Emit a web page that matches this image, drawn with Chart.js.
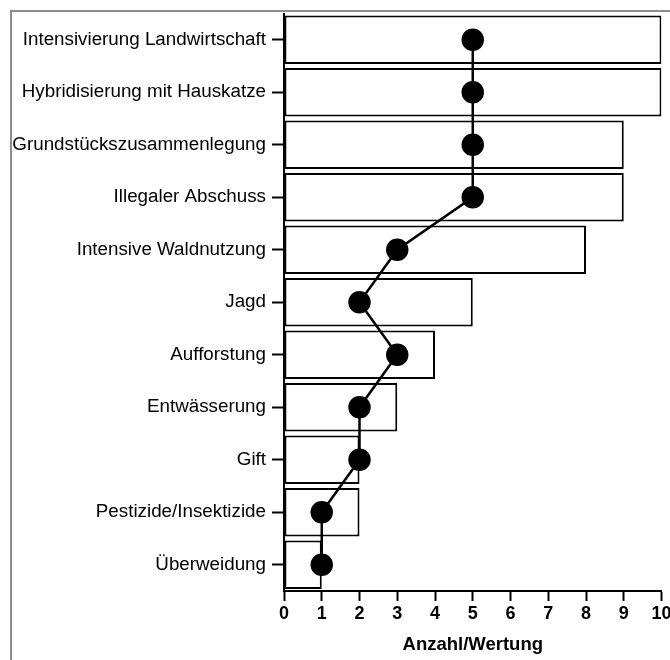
<!DOCTYPE html>
<html lang="de">
<head>
    <meta charset="UTF-8">
    <title>Gefährdungsursachen</title>
    <script src="https://cdn.jsdelivr.net/npm/chart.js"></script>
    <style>
        html, body {
            margin: 0;
            padding: 0;
            background: #fff;
            overflow: hidden;
        }
        .wrap {
            position: relative;
            width: 670px;
            height: 660px;
            overflow: hidden;
        }
        /* grauer Rahmen oben und links */
        .frame {
            position: absolute;
            left: 10px;
            top: 10px;
            right: 0;
            bottom: 0;
            border-left: 2px solid #8c8c8c;
            border-top: 2px solid #8c8c8c;
            pointer-events: none;
        }
        #chart {
            position: absolute;
            left: 0;
            top: 0;
        }
    </style>
</head>
<body>

<div class="wrap">
    <div class="frame"></div>
    <!-- etwas breiter, damit die "10" rechts abgeschnitten wird wie im Original -->
    <canvas id="chart" width="674" height="660"></canvas>
</div>

<script>
    // Daten
    const categories = [
        'Intensivierung Landwirtschaft',
        'Hybridisierung mit Hauskatze',
        'Grundstückszusammenlegung',
        'Illegaler Abschuss',
        'Intensive Waldnutzung',
        'Jagd',
        'Aufforstung',
        'Entwässerung',
        'Gift',
        'Pestizide/Insektizide',
        'Überweidung'
    ];
    const anzahl  = [10, 10, 9, 9, 8, 5, 4, 3, 2, 2, 1];
    const wertung = [5, 5, 5, 5, 3, 2, 3, 2, 2, 1, 1];
    const xTicks  = [0, 1, 2, 3, 4, 5, 6, 7, 8, 9, 10];

    const fontFamily = "'Liberation Sans', Arial, sans-serif";

    const ctx = document.getElementById('chart').getContext('2d');
    new Chart(ctx, {
        data: {
            labels: categories,
            datasets: [
                {
                    type: 'line',
                    label: 'Wertung',
                    data: wertung,
                    borderColor: '#000',
                    borderWidth: 2.5,
                    pointRadius: 10,
                    pointBackgroundColor: '#000',
                    pointBorderColor: '#000',
                    tension: 0,
                    order: 0
                },
                {
                    type: 'bar',
                    label: 'Anzahl',
                    data: anzahl,
                    backgroundColor: '#fff',
                    borderColor: '#000',
                    borderWidth: 2,
                    borderSkipped: false,
                    barPercentage: 0.92,
                    categoryPercentage: 1,
                    order: 1
                }
            ]
        },
        options: {
            indexAxis: 'y',
            responsive: false,
            animation: false,
            layout: { padding: { top: 13.5, left: 0, right: 0, bottom: 0 } },
            plugins: {
                legend: { display: false },
                tooltip: { enabled: false }
            },
            scales: {
                x: {
                    type: 'linear',
                    position: 'bottom',
                    min: 0,
                    max: 10,
                    afterBuildTicks: s => { s.ticks = xTicks.map(v => ({ value: v })); },
                    afterFit: s => { s.height = 69; },
                    grid: {
                        drawOnChartArea: false,
                        drawTicks: true,
                        tickLength: 10,
                        tickColor: '#000',
                        tickWidth: 2
                    },
                    border: { display: true, color: '#000', width: 2 },
                    ticks: {
                        color: '#000',
                        padding: 2,
                        maxRotation: 0,
                        font: { family: fontFamily, size: 18, weight: 'bold' }
                    },
                    title: {
                        display: true,
                        text: 'Anzahl/Wertung',
                        color: '#000',
                        font: { family: fontFamily, size: 18.5, weight: 'bold' },
                        padding: { top: 2, bottom: 4 }
                    }
                },
                y: {
                    type: 'category',
                    position: 'left',
                    offset: true,
                    afterFit: s => { s.width = 284; s.paddingTop = 0; s.paddingBottom = 0; },
                    grid: {
                        offset: false,
                        drawOnChartArea: false,
                        drawTicks: true,
                        tickLength: 12,
                        tickColor: '#000',
                        tickWidth: 2
                    },
                    border: { display: true, color: '#000', width: 2 },
                    ticks: {
                        color: '#000',
                        padding: 6,
                        autoSkip: false,
                        font: { family: fontFamily, size: 18.8 }
                    }
                }
            }
        }
    });
</script>

</body>
</html>
